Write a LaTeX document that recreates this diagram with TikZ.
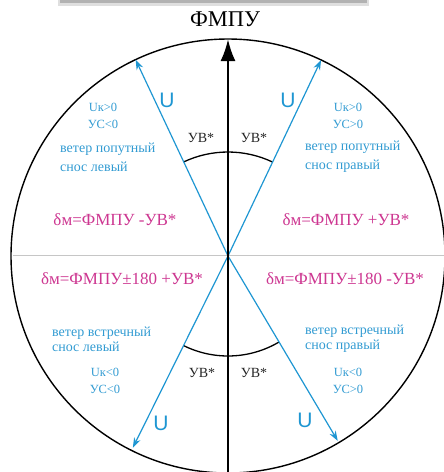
\documentclass[tikz,border=0pt]{standalone}
\usepackage{fontspec}
\setmainfont{Liberation Serif}
\newfontfamily\usans{Liberation Sans}
\usetikzlibrary{arrows.meta,calc}
\definecolor{wblue}{RGB}{30,150,210}
\definecolor{tblue}{RGB}{50,155,210}
\definecolor{fpink}{RGB}{205,55,145}
\begin{document}
\begin{tikzpicture}[x=1pt,y=-1pt,
  small/.style={font=\fontsize{12.5}{17}\selectfont, text=tblue, align=center, inner sep=0pt},
  windtxt/.style={font=\fontsize{14}{19}\selectfont, text=tblue, align=left, inner sep=0pt, anchor=west},
  formula/.style={font=\fontsize{17}{18}\selectfont, text=fpink, inner sep=0pt},
  angl/.style={font=\fontsize{14}{15}\selectfont, text=black!85, inner sep=0pt},
  ulab/.style={font=\usans\fontsize{21}{22}\selectfont, text=wblue, inner sep=0pt},
  windvec/.style={draw=wblue, line width=1.2pt, -{Stealth[length=10pt,width=7pt]}},
  arcline/.style={line width=1.3pt},
]
\useasboundingbox (0,0) rectangle (444,472);
\clip (0,0) rectangle (444,472);
% top shadow bar
\fill[gray!25] (58,0) rectangle (369,6);
\fill[gray!60] (60,0) rectangle (367,3);
% geometry
\coordinate (O) at (228,256);
\coordinate (hl) at (13,255);
\coordinate (hr) at (444,255);
\coordinate (top) at (228,39);
\coordinate (bot) at (228,480);
\coordinate (ul) at ($(O)+(244.8:217)$);
\coordinate (ur) at ($(O)+(295.4:217)$);
\coordinate (ll) at ($(O)+(116.4:214)$);
\coordinate (lr) at ($(O)+(59.3:215)$);
% circle and horizontal line
\draw[line width=1.4pt] (O) circle[radius=217];
\draw[gray!45, line width=0.6pt] (hl) -- (hr);
% angle arcs
\draw[arcline] ($(O)+(244.8:104)$) arc[start angle=244.8, end angle=295.4, radius=104];
\draw[arcline] ($(O)+(59.3:100)$) arc[start angle=59.3, end angle=116.4, radius=100];
% wind vectors
\draw[windvec] (O) -- (ul);
\draw[windvec] (O) -- (ur);
\draw[windvec] (O) -- (ll);
\draw[windvec] (O) -- (lr);
% course arrow
\draw[line width=2.6pt, -{Latex[length=22pt,width=15pt]}] (bot) -- (top);
% labels
\node[font=\fontsize{22.5}{23}\selectfont, inner sep=0pt] (fmpu) at (225,19) {ФМПУ};
\node[ulab] (u1) at (167,100) {U};
\node[ulab] (u2) at (288,100) {U};
\node[ulab] (u3) at (161,423) {U};
\node[ulab] (u4) at (305,420) {U};
\node[small] (k1) at (103,116) {Uк>0\\УС<0};
\node[small] (k2) at (348,116) {Uк>0\\УС>0};
\node[small] (k3) at (105,381) {Uк<0\\УС<0};
\node[small] (k4) at (348,381) {Uк<0\\УС>0};
\node[windtxt] (w1) at (60,157) {ветер попутный\\снос левый};
\node[windtxt] (w2) at (305,157) {ветер попутный\\снос правый};
\node[windtxt, font=\fontsize{14}{15}\selectfont] (w3) at (52,339) {ветер встречный\\снос левый};
\node[windtxt, font=\fontsize{14}{15}\selectfont] (w4) at (305,339) {ветер встречный\\снос правый};
\node[angl] (a1) at (201,138) {УВ*};
\node[angl] (a2) at (254,138) {УВ*};
\node[angl] (a3) at (202,373) {УВ*};
\node[angl] (a4) at (254,373) {УВ*};
\node[formula] (f1) at (115,220) {δм=ФМПУ -УВ*};
\node[formula] (f2) at (346,220) {δм=ФМПУ +УВ*};
\node[formula] (f3) at (122,279) {δм=ФМПУ±180 +УВ*};
\node[formula] (f4) at (345,279) {δм=ФМПУ±180 -УВ*};
\end{tikzpicture}
\end{document}
